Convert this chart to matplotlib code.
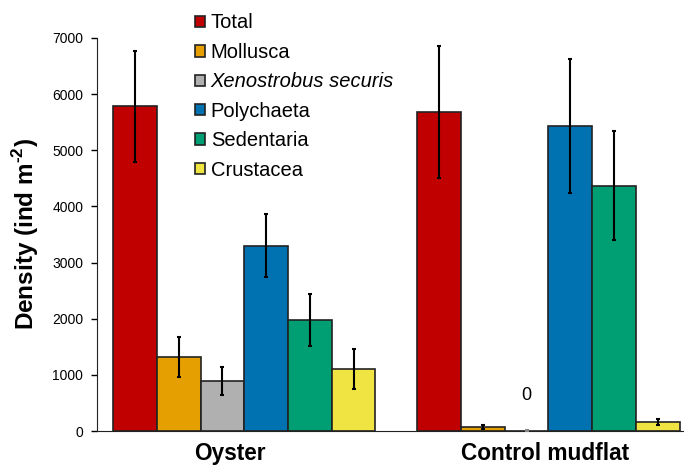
import matplotlib.pyplot as plt
import numpy as np
from matplotlib.patches import Patch

plt.rcParams['font.family'] = ['Liberation Sans', 'DejaVu Sans']
plt.rcParams['mathtext.fontset'] = 'custom'
plt.rcParams['mathtext.rm'] = 'Liberation Sans:bold'

# data
sites = ["Oyster", "Control mudflat"]
taxa = ["Total", "Mollusca", "Xenostrobus securis", "Polychaeta", "Sedentaria", "Crustacea"]
colors = ["#C00000", "#E69F00", "#B0B0B0", "#0072B2", "#009E73", "#F0E442"]
oyster = [5780, 1320, 885, 3300, 1975, 1100]
oyster_err = [985, 360, 250, 560, 460, 360]
control = [5680, 75, 0, 5435, 4365, 165]
control_err = [1180, 40, 15, 1190, 970, 55]

fig = plt.figure(figsize=(6.84, 4.67), dpi=100)
ax = fig.add_axes([0.142, 0.077, 0.86, 0.842])

x = np.arange(len(sites))
w = 0.1437
for i, t in enumerate(taxa):
    vals = [oyster[i], control[i]]
    errs = [oyster_err[i], control_err[i]]
    pos = x + (i - 2.5) * w
    ax.bar(pos, vals, w, color=colors[i], edgecolor="#222222", linewidth=1.2, zorder=2)
    ecol = ["black", "#888888"] if i == 2 else ["black", "black"]
    for p, v, e, c in zip(pos, vals, errs, ecol):
        ax.errorbar(p, v, yerr=e, fmt="none", ecolor=c, elinewidth=1.5,
                    capsize=1.5, capthick=1.5, zorder=3)

# zero label for Xenostrobus at control
ax.text(x[1] + (2 - 2.5) * w, 480, "0", ha="center", va="bottom", fontsize=13)

ax.set_xlim(-0.484, 1.45)
ax.set_ylim(0, 7000)
ax.set_yticks(range(0, 7001, 1000))
ax.tick_params(axis="y", labelsize=10, direction="out", length=4, width=1, pad=6)
ax.set_xticks([-0.046, 0.99])
ax.set_xticklabels(sites, fontsize=16.3, fontweight="bold")
ax.tick_params(axis="x", length=0, pad=8)
ax.set_ylabel("Density (ind m$^{\\text{-2}}$)", fontsize=17.5, fontweight="bold", labelpad=8)
for s in ["top", "right"]:
    ax.spines[s].set_visible(False)
ax.spines["left"].set_color("#222222")
ax.spines["bottom"].set_color("#222222")

handles = [Patch(facecolor=c, edgecolor="#222222", linewidth=1.2) for c in colors]
leg = fig.legend(handles, taxa, loc="upper left", bbox_to_anchor=(0.258, 1.01),
                 frameon=False, fontsize=14.5, handlelength=0.5, handleheight=0.5,
                 handletextpad=0.3, labelspacing=0.52)
leg.get_texts()[2].set_fontstyle("italic")

fig.savefig("out.png", dpi=100)
